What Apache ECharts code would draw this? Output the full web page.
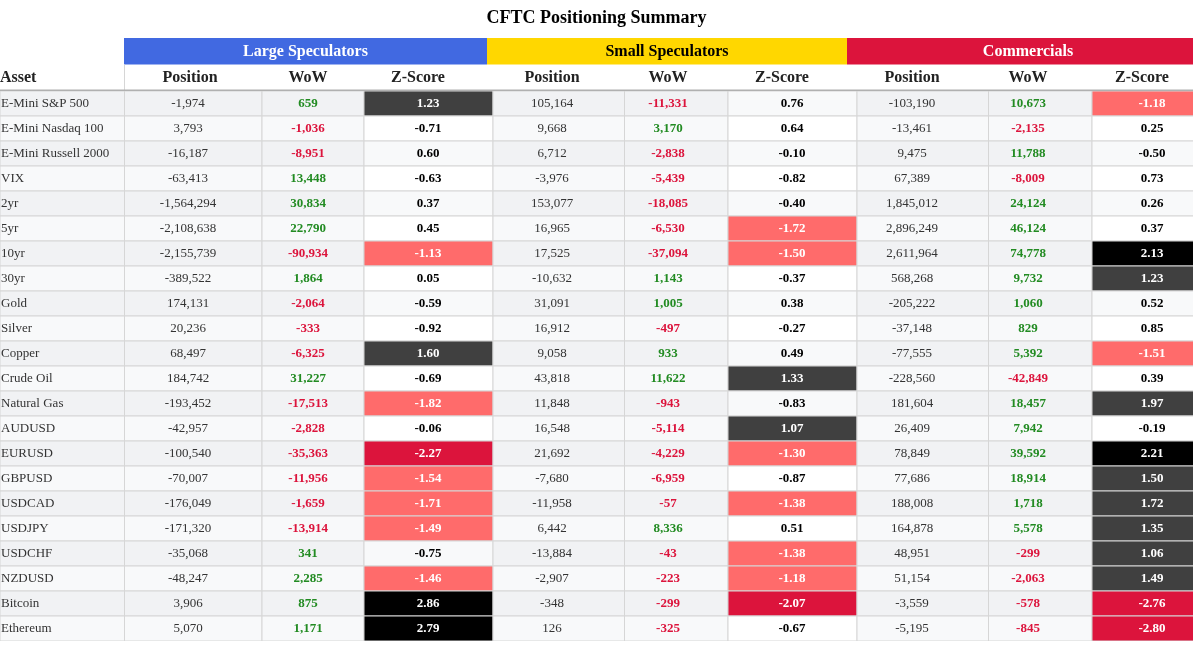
<!DOCTYPE html>
<html>
<head>
<meta charset="utf-8">
<script src="https://cdn.jsdelivr.net/npm/echarts@6/dist/echarts.min.js"></script>
<style>
  html, body { margin: 0; padding: 0; background: #ffffff; }
  #container { width: 1193px; height: 651px; }
</style>
</head>
<body>
<div id="container"></div>
<script type="text/javascript">
// ---- data ----
var assets = ['E-Mini S&P 500', 'E-Mini Nasdaq 100', 'E-Mini Russell 2000', 'VIX', '2yr', '5yr', '10yr', '30yr',
              'Gold', 'Silver', 'Copper', 'Crude Oil', 'Natural Gas', 'AUDUSD', 'EURUSD', 'GBPUSD', 'USDCAD',
              'USDJPY', 'USDCHF', 'NZDUSD', 'Bitcoin', 'Ethereum'];

var groups = ['Large Speculators', 'Small Speculators', 'Commercials'];
var subCols = ['Position', 'WoW', 'Z-Score'];

var largePos = [-1974, 3793, -16187, -63413, -1564294, -2108638, -2155739, -389522, 174131, 20236, 68497,
                184742, -193452, -42957, -100540, -70007, -176049, -171320, -35068, -48247, 3906, 5070];
var largeWow = [659, -1036, -8951, 13448, 30834, 22790, -90934, 1864, -2064, -333, -6325,
                31227, -17513, -2828, -35363, -11956, -1659, -13914, 341, 2285, 875, 1171];
var largeZ   = [1.23, -0.71, 0.60, -0.63, 0.37, 0.45, -1.13, 0.05, -0.59, -0.92, 1.60,
                -0.69, -1.82, -0.06, -2.27, -1.54, -1.71, -1.49, -0.75, -1.46, 2.86, 2.79];

var smallPos = [105164, 9668, 6712, -3976, 153077, 16965, 17525, -10632, 31091, 16912, 9058,
                43818, 11848, 16548, 21692, -7680, -11958, 6442, -13884, -2907, -348, 126];
var smallWow = [-11331, 3170, -2838, -5439, -18085, -6530, -37094, 1143, 1005, -497, 933,
                11622, -943, -5114, -4229, -6959, -57, 8336, -43, -223, -299, -325];
var smallZ   = [0.76, 0.64, -0.10, -0.82, -0.40, -1.72, -1.50, -0.37, 0.38, -0.27, 0.49,
                1.33, -0.83, 1.07, -1.30, -0.87, -1.38, 0.51, -1.38, -1.18, -2.07, -0.67];

var commPos  = [-103190, -13461, 9475, 67389, 1845012, 2896249, 2611964, 568268, -205222, -37148, -77555,
                -228560, 181604, 26409, 78849, 77686, 188008, 164878, 48951, 51154, -3559, -5195];
var commWow  = [10673, -2135, 11788, -8009, 24124, 46124, 74778, 9732, 1060, 829, 5392,
                -42849, 18457, 7942, 39592, 18914, 1718, 5578, -299, -2063, -578, -845];
var commZ    = [-1.18, 0.25, -0.50, 0.73, 0.26, 0.37, 2.13, 1.23, 0.52, 0.85, -1.51,
                0.39, 1.97, -0.19, 2.21, 1.50, 1.72, 1.35, 1.06, 1.49, -2.76, -2.80];

var blocks = [[largePos, largeWow, largeZ], [smallPos, smallWow, smallZ], [commPos, commWow, commZ]];

// ---- layout / styles ----
var FONT = "'Liberation Serif', 'Times New Roman', serif";
var COL_EDGES = [0, 124.5, 262, 364, 493, 624.5, 728, 857, 988.5, 1092, 1221];
var TEXT_X = [1, 188, 308, 428, 552, 668, 792, 912, 1028, 1152];
var HEAD_TEXT_X = [0, 190, 308, 418, 552, 668, 782, 912, 1028, 1142];
var GROUP_EDGES = [124, 487, 847, 1209];
var groupColors = ['#4169e1', '#ffd700', '#dc143c'];
var groupTextColors = ['#ffffff', '#000000', '#ffffff'];
var GREEN = '#228b22', RED = '#dc143c', GRID_LINE = '#d6d6d6';

function fmt(n) {
    var s = String(Math.abs(n)).replace(/\B(?=(\d{3})+(?!\d))/g, ',');
    return (n < 0 ? '-' : '') + s;
}

function zColor(z) {
    if (z >= 2) return '#000000';
    if (z >= 1) return '#404040';
    if (z <= -2) return '#dc143c';
    if (z <= -1) return '#ff6b6b';
    return null;
}

function cellInfo(c, r) {
    var bg = r % 2 === 0 ? '#f1f2f4' : '#f8f9fa';
    if (c === 0) return { text: assets[r], bg: bg, color: '#333333', weight: 'normal', align: 'left' };
    var g = Math.floor((c - 1) / 3), k = (c - 1) % 3;
    var v = blocks[g][k][r];
    if (k === 0) return { text: fmt(v), bg: bg, color: '#333333', weight: 'normal', align: 'center' };
    if (k === 1) return { text: fmt(v), bg: bg, color: v >= 0 ? GREEN : RED, weight: 'bold', align: 'center' };
    var zc = zColor(v);
    return {
        text: v.toFixed(2),
        bg: zc || (r % 2 === 0 ? '#f8f9fa' : '#ffffff'),
        color: zc ? '#ffffff' : '#000000',
        weight: 'bold', align: 'center'
    };
}

function renderBody(params, api) {
    var c = api.value(0), r = api.value(1);
    var p0 = api.coord([COL_EDGES[c], r]);
    var p1 = api.coord([COL_EDGES[c + 1], r]);
    var h = api.size([0, 1])[1];
    var info = cellInfo(c, r);
    return {
        type: 'group',
        children: [{
            type: 'rect',
            shape: { x: p0[0], y: p0[1] - h / 2, width: p1[0] - p0[0], height: h },
            style: { fill: info.bg, stroke: GRID_LINE, lineWidth: 1 }
        }, {
            type: 'text',
            x: api.coord([TEXT_X[c], r])[0],
            y: p0[1],
            style: {
                text: info.text, fill: info.color, align: info.align, verticalAlign: 'middle',
                fontFamily: FONT, fontSize: 13, fontWeight: info.weight
            }
        }]
    };
}

function renderHead(params, api) {
    var c = api.value(0), r = api.value(1);
    var h = api.size([0, 1])[1];
    var children = [];
    if (r === 0) {
        var a = api.coord([GROUP_EDGES[c], 0]), b = api.coord([GROUP_EDGES[c + 1], 0]);
        children.push({
            type: 'rect',
            shape: { x: a[0], y: a[1] - h / 2, width: b[0] - a[0], height: h },
            style: { fill: groupColors[c] }
        });
        children.push({
            type: 'text', x: (a[0] + b[0]) / 2, y: a[1] + 0.5,
            style: {
                text: groups[c], fill: groupTextColors[c], align: 'center', verticalAlign: 'middle',
                fontFamily: FONT, fontSize: 16, fontWeight: 'bold'
            }
        });
    } else {
        var p = api.coord([HEAD_TEXT_X[c], 1]);
        var label = c === 0 ? 'Asset' : subCols[(c - 1) % 3];
        children.push({
            type: 'text', x: p[0], y: p[1],
            style: {
                text: label, fill: '#222222', align: c === 0 ? 'left' : 'center', verticalAlign: 'middle',
                fontFamily: FONT, fontSize: 16, fontWeight: 'bold'
            }
        });
        if (c === 0) {
            var e = api.coord([COL_EDGES[1], 1]);
            var bottom = e[1] + h / 2;
            children.push({
                type: 'line',
                shape: { x1: e[0], y1: e[1] - h / 2, x2: e[0], y2: bottom },
                style: { stroke: GRID_LINE, lineWidth: 1 }
            });
            children.push({
                type: 'line', z2: 10,
                shape: { x1: 0, y1: bottom - 0.5, x2: api.coord([1193, 1])[0], y2: bottom - 0.5 },
                style: { stroke: '#b0b0b0', lineWidth: 2 }
            });
        }
    }
    return { type: 'group', children: children };
}

var bodyData = [];
for (var r = 0; r < assets.length; r++) {
    for (var c = 0; c < 10; c++) bodyData.push([c, r]);
}
var headData = [];
for (var g = 0; g < groups.length; g++) headData.push([g, 0]);
for (var c2 = 0; c2 < 10; c2++) headData.push([c2, 1]);

var dom = document.getElementById('container');
var myChart = echarts.init(dom);
var option = {
    animation: false,
    backgroundColor: '#ffffff',
    title: {
        text: 'CFTC Positioning Summary',
        left: 'center',
        top: 9,
        padding: 0,
        textStyle: { fontFamily: FONT, fontSize: 18, fontWeight: 'bold', color: '#000000' }
    },
    grid: [
        { left: 0, right: 0, top: 38, height: 53 },
        { left: 0, right: 0, top: 91, height: 550 }
    ],
    xAxis: [
        { type: 'value', gridIndex: 0, min: 0, max: 1193, show: false },
        { type: 'value', gridIndex: 1, min: 0, max: 1193, show: false }
    ],
    yAxis: [
        { type: 'category', gridIndex: 0, data: ['group', 'column'], inverse: true, show: false },
        { type: 'category', gridIndex: 1, data: assets, inverse: true, show: false }
    ],
    series: [
        { type: 'custom', xAxisIndex: 0, yAxisIndex: 0, renderItem: renderHead, data: headData, clip: true, silent: true },
        { type: 'custom', xAxisIndex: 1, yAxisIndex: 1, renderItem: renderBody, data: bodyData, clip: true, silent: true }
    ]
};
myChart.setOption(option, true);
</script>
</body>
</html>
